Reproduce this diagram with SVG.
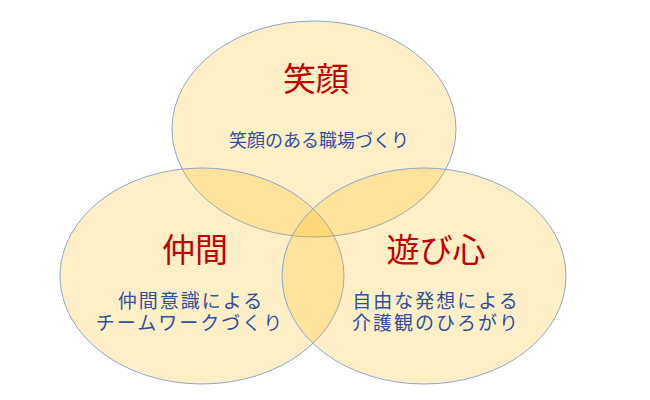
<svg xmlns="http://www.w3.org/2000/svg" width="650" height="400" viewBox="0 0 650 400">
<style>
.c{fill:#FFB400;fill-opacity:0.22;stroke:#8FA6CE;stroke-width:1}
.t{font-family:"Liberation Sans","Noto Sans CJK JP",sans-serif;font-size:33px;fill:#C00000;text-anchor:middle}
.s{font-family:"Liberation Sans","Noto Sans CJK JP",sans-serif;font-size:19px;fill:#2F4FA0;text-anchor:middle;letter-spacing:2px}
.s0{font-family:"Liberation Sans","Noto Sans CJK JP",sans-serif;font-size:18px;fill:#2F4FA0;text-anchor:middle}
</style>
<rect width="650" height="400" fill="#FFFFFF"/>
<g id="egao">
<ellipse class="c" cx="314" cy="129" rx="142" ry="108"/>
<text class="t" x="316" y="91">笑顔</text>
<text class="s0" x="319" y="147">笑顔のある職場づくり</text>
</g>
<g id="nakama">
<ellipse class="c" cx="202" cy="276" rx="142" ry="108"/>
<text class="t" x="195" y="262">仲間</text>
<text class="s" x="191" y="308">仲間意識による</text>
<text class="s" x="190" y="330">チームワークづくり</text>
</g>
<g id="asobigokoro">
<ellipse class="c" cx="424" cy="276" rx="142" ry="108"/>
<text class="t" x="436" y="262">遊び心</text>
<text class="s" x="436" y="308">自由な発想による</text>
<text class="s" x="436" y="330">介護観のひろがり</text>
</g>
<g id="connectors"/>
</svg>
